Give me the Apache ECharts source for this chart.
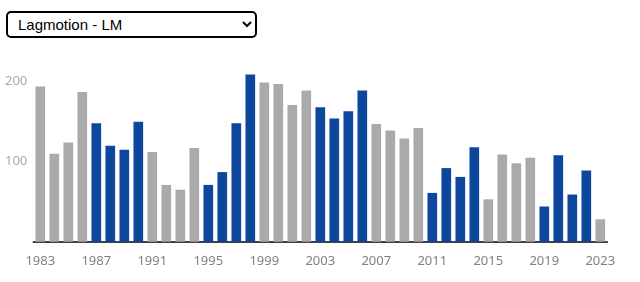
<!DOCTYPE html>
<html>
<head>
<meta charset="utf-8">
<script src="https://cdn.jsdelivr.net/npm/echarts@6/dist/echarts.min.js"></script>
<style>
  html, body { margin: 0; padding: 0; background: #fff; }
  #wrap { position: relative; width: 640px; height: 282px; }
  #chart { position: absolute; left: 0; top: 0; width: 640px; height: 282px; }
  #sel {
    position: absolute; left: 6px; top: 11px; width: 251px; height: 27px;
    border: 2px solid #000; border-radius: 5px; background: #fff;
    font-family: "Liberation Sans", Arial, sans-serif; font-size: 15px; color: #000;
    padding: 0 0 0 6px; box-sizing: border-box; z-index: 2;
  }
</style>
</head>
<body>
<div id="wrap">
  <div id="chart"></div>
  <select id="sel"><option>Lagmotion - LM</option></select>
</div>
<script>
const years = [];
for (let y = 1983; y <= 2023; y++) years.push(String(y));
const values = [194, 110, 124, 187, 148, 120, 115, 150, 112, 71, 65, 117, 71, 87, 148, 209,
  199, 197, 171, 189, 168, 154, 163, 189, 147, 139, 129, 142, 61, 92, 81, 118, 53, 109,
  98, 105, 44, 108, 59, 89, 28];
const blueYears = ['1987','1988','1989','1990','1995','1996','1997','1998','2003','2004','2005','2006',
  '2011','2012','2013','2014','2019','2020','2021','2022'];
const yTickLabels = [100, 200];

const BLUE = '#0c479d', GRAY = '#aaaaaa';
const chart = echarts.init(document.getElementById('chart'), null, { renderer: 'canvas' });
chart.setOption({
  animation: false,
  grid: { left: 33.3, right: 32.7, top: 65.7, bottom: 40.3, containLabel: false },
  xAxis: {
    type: 'category',
    data: years,
    axisLine: { lineStyle: { color: '#000', width: 1.5 } },
    axisTick: { alignWithLabel: true, interval: 3, length: 5, lineStyle: { color: '#000' } },
    axisLabel: { interval: 3, color: '#808080', fontFamily: 'Noto Sans', fontSize: 13, margin: 13 }
  },
  yAxis: {
    type: 'value', min: 0, max: 220, interval: 100,
    splitLine: { show: false },
    axisLine: { show: false },
    axisTick: { show: false },
    axisLabel: {
      color: '#aaaaaa', fontFamily: 'Noto Sans', fontSize: 13, margin: 6,
      formatter: v => yTickLabels.includes(v) ? String(v) : ''
    }
  },
  series: [{
    type: 'bar',
    barCategoryGap: '31%',
    data: values.map((v, i) => ({
      value: v,
      itemStyle: { color: blueYears.includes(years[i]) ? BLUE : GRAY }
    }))
  }]
});
</script>
</body>
</html>
